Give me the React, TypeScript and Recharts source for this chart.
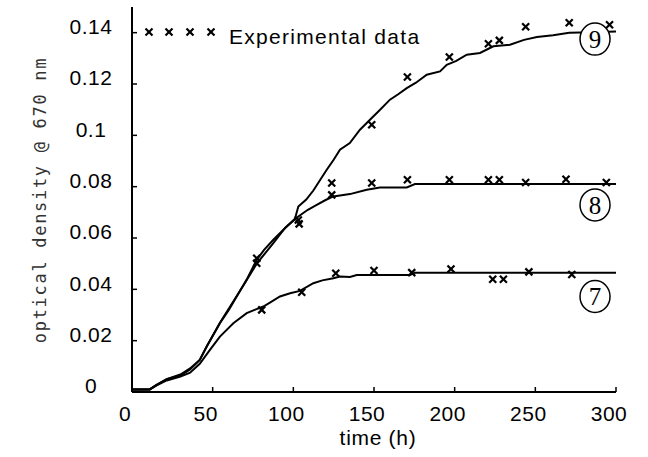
import React from 'react';
import {
  ComposedChart,
  Line,
  Scatter,
  XAxis,
  YAxis,
  Legend,
  Label,
  ReferenceDot,
} from 'recharts';

// model curves, [time (h), optical density]
const curve9: [number, number][] = [
  [0, 0.001], [11, 0.001], [15, 0.0027], [21.5, 0.005], [30, 0.0068], [36, 0.0092],
  [42, 0.0125], [46.3, 0.0177], [54.5, 0.0268], [60, 0.032], [64.9, 0.0372], [71, 0.0437],
  [77.3, 0.0515], [82, 0.0555], [87.6, 0.0593], [95.9, 0.0645], [101, 0.0675], [103.1, 0.0723],
  [108, 0.075], [112.4, 0.0785], [117, 0.083], [120.7, 0.0866], [125, 0.0905], [128.9, 0.0944],
  [135, 0.097], [141.3, 0.1022], [147.5, 0.1061], [153, 0.1095], [159.9, 0.1139], [165, 0.116],
  [170.3, 0.1184], [176, 0.1205], [182.7, 0.1236], [190.9, 0.1249], [195.1, 0.1275], [201, 0.129],
  [207.5, 0.1314], [215.7, 0.1321], [224, 0.1347], [234.3, 0.1353], [243, 0.1372], [251, 0.1383],
  [261, 0.139], [271, 0.14], [285, 0.1402], [300, 0.1405],
];

const curve8: [number, number][] = [
  [0, 0.001], [11, 0.001], [15, 0.0027], [21.5, 0.005], [30, 0.0064], [36, 0.0088],
  [42, 0.0125], [46.3, 0.0177], [54.5, 0.027], [62, 0.0345], [70, 0.0425], [77.3, 0.05],
  [87.6, 0.058], [95, 0.064], [103.1, 0.0684], [109, 0.071], [114.5, 0.0729], [120, 0.0748],
  [124.8, 0.0762], [135.1, 0.0771], [145.5, 0.0788], [153.7, 0.0797], [170.3, 0.0797],
  [175.4, 0.081], [300, 0.081],
];

const curve7: [number, number][] = [
  [0, 0.001], [11, 0.001], [15, 0.0025], [21.5, 0.0045], [30, 0.006], [36, 0.0075],
  [42, 0.011], [48.3, 0.0164], [54.5, 0.0216], [62.8, 0.0268], [71.1, 0.0307], [76, 0.032],
  [81.4, 0.0333], [86, 0.035], [91.7, 0.0372], [98, 0.0385], [104.1, 0.0394], [112.4, 0.0424],
  [118, 0.0435], [124.8, 0.0443], [128.9, 0.045], [135.1, 0.0448], [139.3, 0.0456],
  [172.3, 0.0456], [175.4, 0.0465], [300, 0.0465],
];

// measured points (all runs)
const experimental: [number, number][] = [
  [77.3, 0.0521], [77.3, 0.0502], [80.4, 0.032], [103.1, 0.067], [103.6, 0.0655], [105.2, 0.0389],
  [123.8, 0.0814], [123.8, 0.0768], [126.3, 0.0463], [148.6, 0.1041], [148.6, 0.0814], [150, 0.0473],
  [170.7, 0.1227], [170.7, 0.0827], [173.4, 0.0465], [196.7, 0.1305], [196.7, 0.0827], [197.7, 0.0479],
  [220.9, 0.1357], [227.7, 0.137], [220.9, 0.0827], [227.7, 0.0827], [223.6, 0.0439], [230.2, 0.0439],
  [244, 0.1423], [244, 0.0816], [246, 0.0468], [271, 0.1439], [269, 0.0829], [272.6, 0.0458],
  [296, 0.1431], [294, 0.0816],
];

const xTicks = [0, 50, 100, 150, 200, 250, 300];
const yTicks = [0, 0.02, 0.04, 0.06, 0.08, 0.1, 0.12, 0.14];

const curveLabels = ['9', '8', '7'];
const curveLabelY = [0.1375, 0.0729, 0.0372];
const curveLabelX = 287;

const toRows = (pts: [number, number][]) => pts.map(([t, v]) => ({ t, v }));

const tickFont = {
  fontFamily: '"Liberation Sans", Arial, sans-serif',
  fontSize: 21,
  letterSpacing: 0.5,
};

const XMark = ({ cx, cy }: any) => (
  <g stroke="#000" strokeWidth={2.2}>
    <line x1={cx - 3.5} y1={cy - 3.5} x2={cx + 3.5} y2={cy + 3.5} />
    <line x1={cx - 3.5} y1={cy + 3.5} x2={cx + 3.5} y2={cy - 3.5} />
  </g>
);

const XTick = ({ x, y, payload }: any) => (
  <text x={x - 7} y={y} dy="0.35em" textAnchor="middle" fill="#000" {...tickFont}>
    {payload.value}
  </text>
);

const YTick = ({ x, y, payload }: any) => (
  <text x={x} y={y - 6} dy="0.35em" textAnchor="middle" fill="#000" {...tickFont}>
    {payload.value}
  </text>
);

const YTitle = () => {
  const x = 40;
  const y = 200;
  return (
    <text
      x={x}
      y={y}
      dy="0.35em"
      textAnchor="middle"
      transform={`rotate(-90, ${x}, ${y})`}
      fill="#333"
      fontFamily='"DejaVu Sans Mono", monospace'
      fontSize={17}
      letterSpacing={1.7}
    >
      optical density @ 670 nm
    </text>
  );
};

const XTitle = ({ viewBox }: any) => (
  <text
    x={viewBox.x + viewBox.width / 2 + 4}
    y={viewBox.y + 46}
    dy="0.35em"
    textAnchor="middle"
    fill="#000"
    fontFamily={tickFont.fontFamily}
    fontSize={21}
    letterSpacing={0.7}
  >
    time (h)
  </text>
);

const LegendBox = () => (
  <svg width={300} height={30} style={{ overflow: 'visible' }}>
    {[9, 29, 50, 71].map((cx) => (
      <XMark key={cx} cx={cx} cy={12} />
    ))}
    <text
      x={89}
      y={17}
      dy="0.35em"
      fill="#000"
      fontFamily={tickFont.fontFamily}
      fontSize={21}
      letterSpacing={1.3}
    >
      Experimental data
    </text>
  </svg>
);

const CircledLabel = (text: string) => (props: any) => (
  <g>
    <ellipse cx={props.cx} cy={props.cy} rx={15} ry={16} fill="#fff" stroke="#000" strokeWidth={1.5} />
    <text
      x={props.cx}
      y={props.cy}
      dy="0.35em"
      textAnchor="middle"
      fill="#000"
      fontFamily='"Liberation Serif", "Times New Roman", serif'
      fontSize={25}
    >
      {text}
    </text>
  </g>
);

export default function App() {
  return (
    <div style={{ position: 'absolute', left: 0, top: 0, background: '#fff' }}>
      <ComposedChart width={648} height={457} margin={{ top: 7, right: 32, left: 0, bottom: 0 }}>
        <XAxis
          xAxisId="b"
          dataKey="t"
          type="number"
          domain={[0, 300]}
          ticks={xTicks}
          height={65}
          axisLine={{ stroke: '#000', strokeWidth: 2 }}
          tickLine={{ stroke: '#000', strokeWidth: 1.5 }}
          tickSize={-5}
          tickMargin={27}
          tick={<XTick />}
          allowDataOverflow
        >
          <Label content={<XTitle />} />
        </XAxis>
        <XAxis
          xAxisId="t"
          orientation="top"
          type="number"
          domain={[0, 300]}
          ticks={xTicks}
          height={0}
          axisLine={{ stroke: '#000', strokeWidth: 2 }}
          tickLine={{ stroke: '#000', strokeWidth: 1.5 }}
          tickSize={-5}
          tick={false}
        />
        <YAxis
          yAxisId="l"
          type="number"
          domain={[0, 0.15]}
          ticks={yTicks}
          width={132}
          axisLine={{ stroke: '#000', strokeWidth: 2 }}
          tickLine={{ stroke: '#000', strokeWidth: 1.5 }}
          tickSize={-5}
          tickMargin={46}
          tick={<YTick />}
          allowDataOverflow
        >
          <Label content={<YTitle />} />
        </YAxis>
        <YAxis
          yAxisId="r"
          orientation="right"
          type="number"
          domain={[0, 0.15]}
          ticks={yTicks}
          width={0}
          axisLine={{ stroke: '#000', strokeWidth: 2 }}
          tickLine={{ stroke: '#000', strokeWidth: 1.5 }}
          tickSize={-5}
          tick={false}
        />
        <Legend
          content={<LegendBox />}
          wrapperStyle={{ left: 140, top: 20, height: 0, width: 300 }}
        />
        <Line xAxisId="b" yAxisId="l" data={toRows(curve9)} dataKey="v" type="linear" stroke="#000" strokeWidth={2} dot={false} isAnimationActive={false} legendType="none" />
        <Line xAxisId="b" yAxisId="l" data={toRows(curve8)} dataKey="v" type="linear" stroke="#000" strokeWidth={2} dot={false} isAnimationActive={false} legendType="none" />
        <Line xAxisId="b" yAxisId="l" data={toRows(curve7)} dataKey="v" type="linear" stroke="#000" strokeWidth={2} dot={false} isAnimationActive={false} legendType="none" />
        <Scatter
          xAxisId="b"
          yAxisId="l"
          name="Experimental data"
          data={toRows(experimental)}
          dataKey="v"
          shape={<XMark />}
          isAnimationActive={false}
        />
        {curveLabels.map((lab, i) => (
          <ReferenceDot
            key={lab}
            xAxisId="b"
            yAxisId="l"
            x={curveLabelX}
            y={curveLabelY[i]}
            shape={CircledLabel(lab)}
          />
        ))}
      </ComposedChart>
    </div>
  );
}
